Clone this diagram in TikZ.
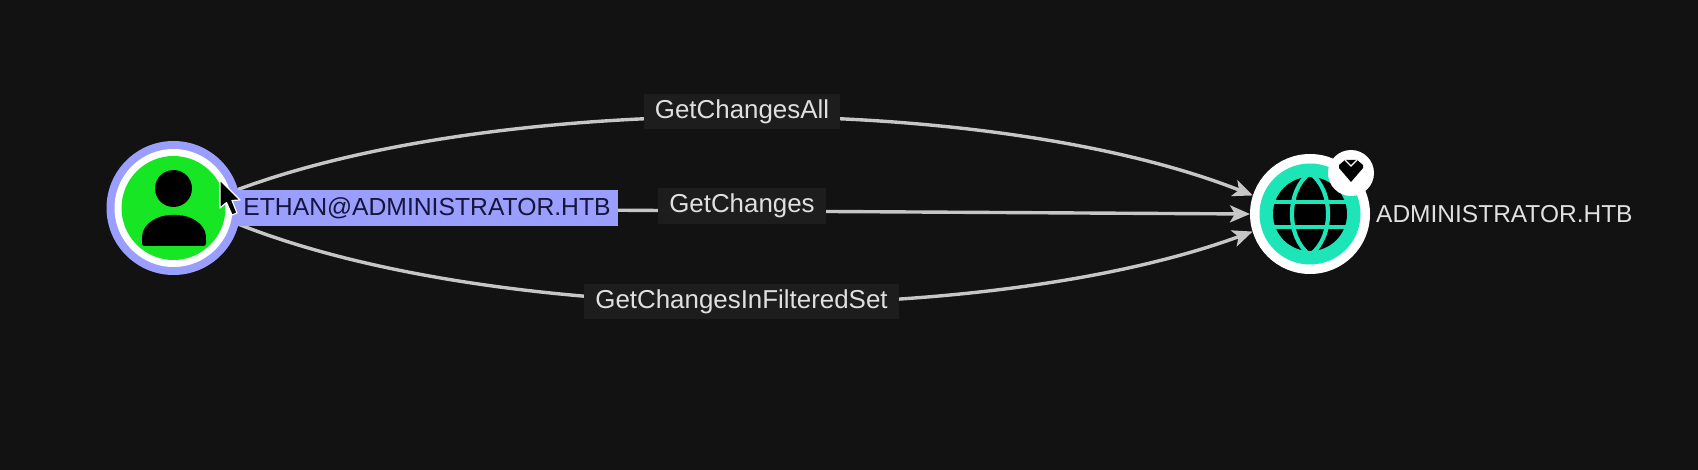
\documentclass[tikz,border=0pt]{standalone}
\usepackage{fontspec}
\setmainfont{Liberation Sans}
\usetikzlibrary{arrows.meta}
\definecolor{bg}{HTML}{121212}
\definecolor{lbl}{HTML}{1D1D1D}
\definecolor{edgec}{HTML}{C6C6C6}
\definecolor{txt}{HTML}{E0E0E0}
\definecolor{violet}{HTML}{9A9EFF}
\definecolor{gr}{HTML}{17E625}
\definecolor{teal2}{HTML}{1DE5B8}
\definecolor{ink}{HTML}{16163A}
\tikzset{
  disc/.style={circle,inner sep=0pt,outer sep=0pt,minimum size=#1},
  conn/.style={draw=edgec,line width=3.4pt,-{Stealth[length=20pt,width=17pt,inset=5pt]}},
  edgelabel/.style={fill=lbl,text=txt,inner sep=0pt,outer sep=0pt,font=\fontsize{25.9}{28}\selectfont,anchor=center},
}
\begin{document}
\begin{tikzpicture}[x=1pt,y=-1pt]
\useasboundingbox (0,0) rectangle (1698,470);
\fill[bg] (0,0) rectangle (1698,470);
% nodes
\node[disc=134pt,fill=violet] (user) at (173.5,208) {};
\node[disc=118pt,fill=white] (userring) at (user) {};
\node[disc=104pt,fill=gr] (userfill) at (user) {};
\node[disc=120pt,fill=white] (dom) at (1310,214) {};
\node[disc=101pt,fill=teal2] (domfill) at (dom) {};
% connectors
\draw[conn] (user.16) .. controls (500,92) and (990,92) .. (dom.162);
\draw[conn] (user.east) -- (dom.west);
\draw[conn] (user.-14) .. controls (500,328) and (990,328) .. (dom.197);
% labels
\node[edgelabel,minimum width=196pt,minimum height=35pt] (lall) at (742,111.5) {\raisebox{-2pt}{GetChangesAll}};
\node[edgelabel,minimum width=168pt,minimum height=36pt] (lch) at (742,206) {\raisebox{-2pt}{GetChanges}};
\node[edgelabel,minimum width=315pt,minimum height=35pt] (lfil) at (741.5,301.5) {\raisebox{-2pt}{GetChangesInFilteredSet}};
\node[fill=violet,text=ink,inner sep=0pt,outer sep=0pt,minimum width=382pt,minimum height=36pt,font=\fontsize{24.7}{28}\selectfont] (uname) at (427,208) {\raisebox{-1pt}{ETHAN@ADMINISTRATOR.HTB}\hspace{14pt}};
\node[text=txt,inner sep=0pt,anchor=west,font=\fontsize{24.5}{28}\selectfont] (dname) at (1376,214.5) {ADMINISTRATOR.HTB};
% person icon
\fill[black] (173.5,188.5) circle[radius=18.5];
\fill[black,rounded corners=2.5pt] (142,246) -- (142,238) .. controls (143,224) and (157,215) .. (174,215) .. controls (191,215) and (205,224) .. (206,238) -- (206,246) -- cycle;
% globe icon
\fill[black] (dom) circle[radius=37];
\begin{scope}[draw=teal2,line width=4.2pt]
\draw (1268,202) -- (1352,202);
\draw (1268,227) -- (1352,227);
\draw (1310,173) .. controls (1286,190) and (1286,238) .. (1310,255);
\draw (1310,173) .. controls (1334,190) and (1334,238) .. (1310,255);
\end{scope}
% badge
\node[disc=46pt,fill=white] (badge) at (1351,173) {};
\fill[black] (1339,165) -- (1345,160) -- (1357,160) -- (1363,165) -- (1363,168) -- (1351,182) -- (1339,168) -- cycle;
\draw[white,line width=1.2pt] (1345,160) -- (1351,166) -- (1357,160);
% cursor
\fill[black,draw=white,line width=1.2pt,line join=round] (220,180) -- (220,208) -- (226.5,202.5) -- (232,215) -- (237,213) -- (232,200.5) -- (240,200) -- cycle;
\end{tikzpicture}
\end{document}
